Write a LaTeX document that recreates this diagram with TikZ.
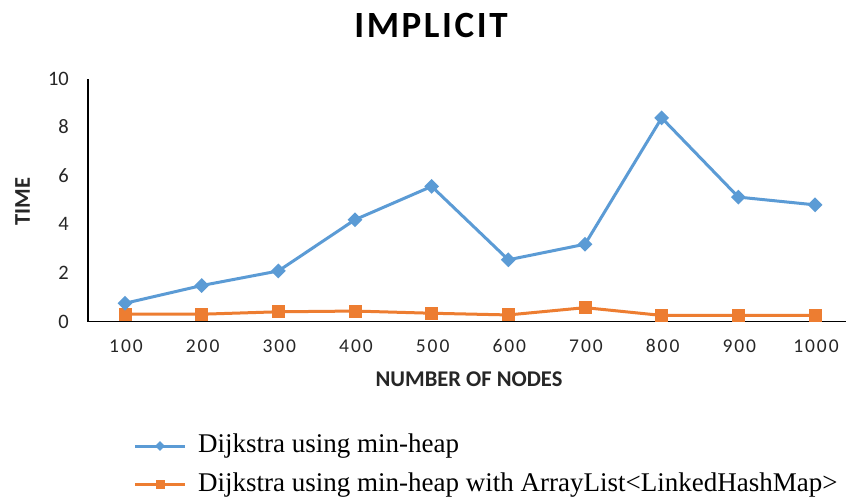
\documentclass[tikz,border=0pt]{standalone}
\usepackage{fontspec}
\usetikzlibrary{shapes.geometric,calc}
\setmainfont{Liberation Serif}
\newfontfamily\chartfont{Carlito}
\newfontfamily\xtickfont{Carlito}[LetterSpace=10]
\newfontfamily\titlefont{Carlito}[LetterSpace=7]
\definecolor{serA}{HTML}{5B9BD5}
\definecolor{serB}{HTML}{ED7D31}
\begin{document}
\begin{tikzpicture}[x=1pt,y=-1pt,
  axisline/.style={draw=black,line width=1.4pt},
  yticklab/.style={inner sep=0pt,anchor=base east,font=\chartfont\fontsize{20.5}{22}\selectfont,text=black!85},
  xticklab/.style={inner sep=0pt,anchor=base,font=\xtickfont\fontsize{19.5}{22}\selectfont,text=black!85},
  axtitle/.style={inner sep=0pt,font=\chartfont\bfseries\fontsize{22.5}{24}\selectfont,text=black!85},
  lineA/.style={draw=serA,line width=3pt,line join=round},
  lineB/.style={draw=serB,line width=3pt,line join=round},
  markA/.style={diamond,fill=serA,draw=none,minimum width=15pt,minimum height=15pt,inner sep=0pt},
  markB/.style={rectangle,fill=serB,draw=none,minimum size=13pt,inner sep=0pt},
  legmarkA/.style={diamond,fill=serA,draw=none,minimum width=10pt,minimum height=10pt,inner sep=0pt},
  legmarkB/.style={rectangle,fill=serB,draw=none,minimum size=9pt,inner sep=0pt},
  legtext/.style={anchor=base west,inner sep=0pt,font=\fontsize{27}{30}\selectfont,text=black}
]
\useasboundingbox[fill=white] (0,0) rectangle (847,499);
% title
\node[inner sep=0pt,anchor=base] (title) at (431,37) {\titlefont\bfseries\fontsize{37}{40}\selectfont IMPLICIT};
% axes
\coordinate (ytop) at (88,79);
\coordinate (orig) at (88,321.5);
\coordinate (xend) at (846,321.5);
\draw[axisline] (ytop) -- (orig) -- (xend);
% y tick labels
\foreach \v in {0,2,4,6,8,10}
  \node[yticklab] (yl\v) at (69,{328-24.3*\v}) {\v};
% x tick labels
\foreach \n [count=\i from 0] in {100,200,300,400,500,600,700,800,900,1000}
  \node[xticklab] (xl\n) at ({126+76.67*\i},352.5) {\n};
% axis titles
\node[axtitle] (xtitle) at (469,379.5) {NUMBER OF NODES};
\node[axtitle,rotate=90] (ytitle) at (22.5,201.5) {TIME};
% data
\foreach \a/\b [count=\i from 0] in {0.75/0.3,1.48/0.3,2.08/0.4,4.19/0.43,5.56/0.34,2.54/0.27,3.18/0.57,8.38/0.25,5.12/0.25,4.8/0.25}{
  \coordinate (a\i) at ({125+76.67*\i},{321.5-24.3*\a});
  \coordinate (b\i) at ({125+76.67*\i},{321.5-24.3*\b});
}
\draw[lineB] (b0) -- (b1) -- (b2) -- (b3) -- (b4) -- (b5) -- (b6) -- (b7) -- (b8) -- (b9);
\draw[lineA] (a0) -- (a1) -- (a2) -- (a3) -- (a4) -- (a5) -- (a6) -- (a7) -- (a8) -- (a9);
\foreach \i in {0,...,9}{
  \node[markB] (mb\i) at (b\i) {};
}
\foreach \i in {0,...,9}{
  \node[markA] (ma\i) at (a\i) {};
}
% legend
\coordinate (lA1) at (135,446);
\coordinate (lA2) at (185,446);
\coordinate (lB1) at (135,484);
\coordinate (lB2) at (185,484);
\draw[lineA] (lA1) -- (lA2);
\draw[lineB] (lB1) -- (lB2);
\node[legmarkA] (lmA) at ($(lA1)!0.5!(lA2)$) {};
\node[legmarkB] (lmB) at ($(lB1)!0.5!(lB2)$) {};
\node[legtext] (ltA) at (198,452) {Dijkstra using min-heap};
\node[legtext] (ltB) at (198,491) {Dijkstra using min-heap with ArrayList<LinkedHashMap>};
\end{tikzpicture}
\end{document}
